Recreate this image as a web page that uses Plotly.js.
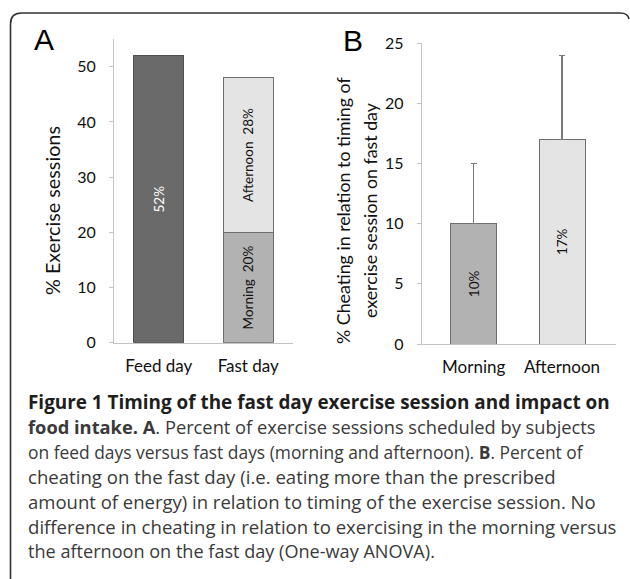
<!DOCTYPE html>
<html>
<head>
<meta charset="utf-8">
<script src="https://cdn.plot.ly/plotly-3.0.1.min.js"></script>
<style>html,body{margin:0;padding:0;background:#fff;}#chart{width:630px;height:579px;}</style>
</head>
<body>
<div id="chart"></div>
<script>
// ---- Data ----
const panelACategories = ["Feed day", "Fast day"];
const feedDayValue = [52];
const morningShare = [20];
const afternoonShare = [28];
const feedDayLabel = ["52%"];
const morningLabel = ["Morning  20%"];
const afternoonLabel = ["Afternoon  28%"];

const panelBCategories = ["Morning", "Afternoon"];
const cheatingValues = [10, 17];
const cheatingErrorPlus = [5, 7];
const cheatingLabels = ["10%", "17%"];

const captionLines = [
  "<b>Figure 1 Timing of the fast day exercise session and impact on</b>",
  "<b>food intake. A</b>. Percent of exercise sessions scheduled by subjects",
  "on feed days versus fast days (morning and afternoon). <b>B</b>. Percent of",
  "cheating on the fast day (i.e. eating more than the prescribed",
  "amount of energy) in relation to timing of the exercise session. No",
  "difference in cheating in relation to exercising in the morning versus",
  "the afternoon on the fast day (One-way ANOVA)."
];

// ---- Layout helpers (pixel -> paper) ----
const W = 630, H = 579;
const px = x => x / W;
const py = y => 1 - y / H;

const chartFont = "Lato, 'Open Sans', sans-serif";
const capFont = "'Open Sans', Lato, sans-serif";
const axisGray = "#c4c4c4";
const captionSizes = [18.9, 18.3, 17.4, 18.6, 18.5, 18.6, 18.1];

const traces = [
  {type: "bar", x: [panelACategories[0]], y: feedDayValue, text: feedDayLabel,
   xaxis: "x", yaxis: "y", width: 0.56,
   marker: {color: "#6a6a6a", line: {color: "#4e4e4e", width: 1}},
   textposition: "inside", insidetextanchor: "middle", textangle: -90,
   textfont: {family: chartFont, size: 13.5, color: "#ffffff"}, hoverinfo: "none"},
  {type: "bar", x: [panelACategories[1]], y: morningShare, text: morningLabel,
   xaxis: "x", yaxis: "y", width: 0.56,
   marker: {color: "#b2b2b2", line: {color: "#6e6e6e", width: 1}},
   textposition: "inside", insidetextanchor: "middle", textangle: -90,
   textfont: {family: chartFont, size: 13.5, color: "#111111"}, hoverinfo: "none"},
  {type: "bar", x: [panelACategories[1]], y: afternoonShare, text: afternoonLabel,
   xaxis: "x", yaxis: "y", width: 0.56,
   marker: {color: "#e4e4e4", line: {color: "#6e6e6e", width: 1}},
   textposition: "inside", insidetextanchor: "middle", textangle: -90,
   textfont: {family: chartFont, size: 13.5, color: "#111111"}, hoverinfo: "none"},
  {type: "bar", x: panelBCategories, y: cheatingValues, text: cheatingLabels,
   xaxis: "x2", yaxis: "y2", width: 0.52,
   marker: {color: ["#b2b2b2", "#e4e4e4"], line: {color: "#6e6e6e", width: 1}},
   error_y: {type: "data", symmetric: false, array: cheatingErrorPlus, arrayminus: [0, 0],
             color: "#7a7a7a", thickness: 1.5, width: 3},
   textposition: "inside", insidetextanchor: "middle", textangle: -90,
   textfont: {family: chartFont, size: 13.5, color: "#111111"}, hoverinfo: "none"}
];

const axisCommon = {
  showgrid: false, zeroline: false, showline: true, linecolor: axisGray, linewidth: 1,
  fixedrange: true
};

const annotations = [
  {text: "A", x: px(44), y: py(40), xref: "paper", yref: "paper", showarrow: false,
   font: {family: "'Liberation Sans', Arial, sans-serif", size: 30, color: "#000"}, xanchor: "center", yanchor: "middle"},
  {text: "B", x: px(353), y: py(41), xref: "paper", yref: "paper", showarrow: false,
   font: {family: "'Liberation Sans', Arial, sans-serif", size: 30, color: "#000"}, xanchor: "center", yanchor: "middle"},
  {text: "% Exercise sessions", x: px(52), y: py(211), xref: "paper", yref: "paper", showarrow: false,
   textangle: -90, font: {family: chartFont, size: 19.8, color: "#111"}, xanchor: "center", yanchor: "middle"},
  {text: "% Cheating in relation to timing of", x: px(343), y: py(210), xref: "paper", yref: "paper", showarrow: false,
   textangle: -90, font: {family: chartFont, size: 17.8, color: "#111"}, xanchor: "center", yanchor: "middle"},
  {text: "exercise session on fast day", x: px(370), y: py(210), xref: "paper", yref: "paper", showarrow: false,
   textangle: -90, font: {family: chartFont, size: 17.8, color: "#111"}, xanchor: "center", yanchor: "middle"}
];

const captionTop = 402, captionStep = 24.8;
captionLines.forEach((line, i) => {
  annotations.push({text: line, x: px(26), y: py(captionTop + i * captionStep), xref: "paper", yref: "paper",
    showarrow: false, xanchor: "left", yanchor: "middle", align: "left",
    font: {family: capFont, size: captionSizes[i], color: i === 0 ? "#1e1e1e" : "#3a3a3a"}});
});

// frame with rounded top corners
const fx0 = 10.5, fy0 = 13, fx1 = 628, r = 11;
const framePath = `M ${px(fx0)},${py(579)} L ${px(fx0)},${py(fy0 + r)} Q ${px(fx0)},${py(fy0)} ${px(fx0 + r)},${py(fy0)} ` +
  `L ${px(fx1 - 8)},${py(fy0)} Q ${px(fx1)},${py(fy0)} ${px(fx1 + 1)},${py(fy0 + 6)}`;

const layout = {
  width: W, height: H, margin: {l: 0, r: 0, t: 0, b: 0},
  paper_bgcolor: "#ffffff", plot_bgcolor: "#ffffff",
  barmode: "stack", showlegend: false,
  font: {family: chartFont, color: "#111"},
  xaxis: Object.assign({}, axisCommon, {domain: [px(114), px(293)], anchor: "y", type: "category",
    range: [-0.5, 1.5], ticks: "", tickfont: {family: chartFont, size: 17, color: "#111"}, ticklabelstandoff: 8}),
  yaxis: Object.assign({}, axisCommon, {domain: [py(342.7), py(39.1)], anchor: "x", range: [0, 55],
    tickvals: [0, 10, 20, 30, 40, 50], ticks: "outside", ticklen: 4, tickcolor: axisGray,
    tickfont: {family: chartFont, size: 16, color: "#111"}, ticklabelstandoff: 10}),
  xaxis2: Object.assign({}, axisCommon, {domain: [px(421.7), px(616)], anchor: "y2", type: "category",
    range: [-0.589, 1.611], ticks: "", tickfont: {family: chartFont, size: 17, color: "#111"}, ticklabelstandoff: 8}),
  yaxis2: Object.assign({}, axisCommon, {domain: [py(344), py(43.3)], anchor: "x2", range: [0, 25],
    tickvals: [0, 5, 10, 15, 20, 25], ticks: "outside", ticklen: 4, tickcolor: axisGray,
    tickfont: {family: chartFont, size: 16, color: "#111"}, ticklabelstandoff: 10}),
  annotations: annotations,
  shapes: [{type: "path", xref: "paper", yref: "paper", path: framePath,
            line: {color: "#333333", width: 1.6}}]
};

Plotly.newPlot("chart", traces, layout, {staticPlot: true, displayModeBar: false});
</script>
</body>
</html>
